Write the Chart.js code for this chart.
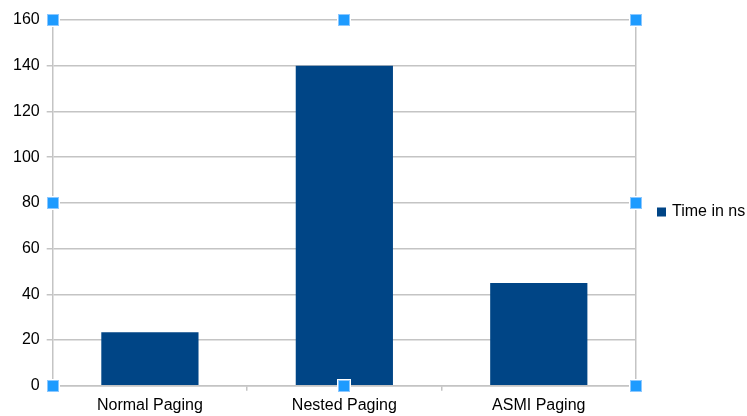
<!DOCTYPE html>
<html>
<head>
<meta charset="utf-8">
<script src="https://cdn.jsdelivr.net/npm/chart.js@4"></script>
<style>
  html, body { margin: 0; padding: 0; background: #fff; }
  #wrap { width: 747px; height: 416px; }
</style>
</head>
<body>
<div id="wrap"><canvas id="pagingChart" width="747" height="416"></canvas></div>
<script>
const categories = ["Normal Paging", "Nested Paging", "ASMI Paging"];
const timeInNs = [23.4, 140, 45];
const seriesLabel = "Time in ns";
const yTicks = [0, 20, 40, 60, 80, 100, 120, 140, 160];

const ctx = document.getElementById("pagingChart");
const barColor = "#004586";
const gridColor = "#c4c4c4";
const handleColor = "#1e9bff";

// legend on the right, drawn by hand so the plot area width is fixed
const sideLegend = {
  id: "sideLegend",
  afterDraw(chart) {
    const c = chart.ctx;
    const area = chart.chartArea;
    const ds = chart.data.datasets[0];
    const x = area.right + 21;
    const y = chart.height / 2 + 4;
    c.save();
    c.fillStyle = ds.backgroundColor;
    c.fillRect(x, y - 4.5, 9, 9);
    c.fillStyle = "#000";
    c.font = "16px 'Liberation Sans', Arial, sans-serif";
    c.textBaseline = "middle";
    c.fillText(ds.label, x + 15, y);
    c.restore();
  }
};

// selection handles around the plot area
const handles = {
  id: "handles",
  afterDraw(chart) {
    const c = chart.ctx;
    const a = chart.chartArea;
    const midX = (a.left + a.right) / 2;
    const midY = (a.top + a.bottom) / 2;
    const pts = [
      [a.left, a.top], [midX, a.top], [a.right, a.top],
      [a.left, midY], [a.right, midY],
      [a.left, a.bottom], [midX, a.bottom], [a.right, a.bottom]
    ];
    c.save();
    pts.forEach(([px, py]) => {
      c.fillStyle = "#fff";
      c.fillRect(Math.round(px) - 7, Math.round(py) - 7, 14, 14);
      c.fillStyle = "#8cc8ff";
      c.fillRect(Math.round(px) - 6, Math.round(py) - 6, 12, 12);
      c.fillStyle = handleColor;
      c.fillRect(Math.round(px) - 5, Math.round(py) - 5, 10, 10);
    });
    c.restore();
  }
};

new Chart(ctx, {
  type: "bar",
  data: {
    labels: categories,
    datasets: [
      {
        label: seriesLabel,
        data: timeInNs,
        backgroundColor: barColor,
        borderWidth: 0,
        barPercentage: 0.5,
        categoryPercentage: 1.0
      }
    ]
  },
  options: {
    responsive: false,
    animation: false,
    layout: {
      padding: { left: 6, top: 20, right: 111, bottom: -4 }
    },
    plugins: {
      legend: { display: false },
      tooltip: { enabled: false }
    },
    scales: {
      x: {
        offset: true,
        grid: {
          offset: true,
          drawOnChartArea: false,
          color: gridColor,
          lineWidth: 1.5,
          tickLength: 5
        },
        border: { color: gridColor, width: 1.5 },
        ticks: {
          color: "#000",
          padding: 5,
          font: { family: "'Liberation Sans', Arial, sans-serif", size: 16 }
        }
      },
      y: {
        min: 0,
        max: 160,
        afterBuildTicks: (axis) => {
          axis.ticks = yTicks.map((v) => ({ value: v }));
        },
        grid: { color: gridColor, lineWidth: 1.5, tickLength: 6 },
        border: { color: gridColor, width: 1.5 },
        ticks: {
          color: "#000",
          padding: 7,
          font: { family: "'Liberation Sans', Arial, sans-serif", size: 16 }
        }
      },
      y2: {
        position: "right",
        min: 0,
        max: 160,
        grid: { display: false, drawTicks: false },
        border: { display: true, color: gridColor, width: 1.5 },
        ticks: { display: false }
      }
    }
  },
  plugins: [sideLegend, handles]
});
</script>
</body>
</html>
